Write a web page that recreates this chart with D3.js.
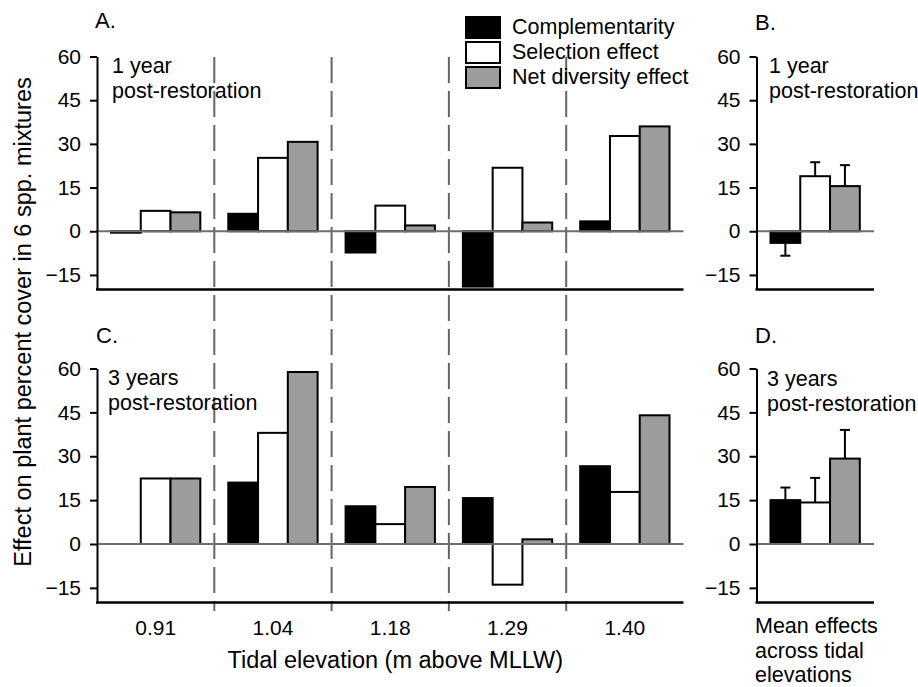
<!DOCTYPE html>
<html>
<head>
<meta charset="utf-8">
<script src="https://cdn.jsdelivr.net/npm/d3@7"></script>
<style>
  body { margin: 0; background: #fff; }
  svg { font-family: "Liberation Sans", Arial, sans-serif; }
</style>
</head>
<body>
<div id="chart"></div>
<script>
// tidal elevation groups (m above MLLW)
var elevations = ["0.91", "1.04", "1.18", "1.29", "1.40"];
var effects = ["Complementarity", "Selection effect", "Net diversity effect"];
var fills = ["#000000", "#ffffff", "#9c9c9c"];

// 1 year post-restoration
var year1Comp = [-0.5, 6, -7.3, -19, 3.4];
var year1Sel  = [7, 25.2, 8.8, 21.8, 32.7];
var year1Net  = [6.5, 30.7, 2, 3, 36];
// 3 years post-restoration
var year3Comp = [0, 21, 12.9, 15.7, 26.6];
var year3Sel  = [22.4, 38, 6.8, -13.9, 17.8];
var year3Net  = [22.4, 58.8, 19.5, 1.6, 44];

// means across tidal elevations, with error bars (SE)
var year1Mean = [-4, 18.9, 15.5];
var year1Err  = [4.4, 4.8, 7.2];
var year3Mean = [15, 14.2, 29.2];
var year3Err  = [4.3, 8.4, 9.8];

var yTicks = [-15, 0, 15, 30, 45, 60];

const W = 918, H = 687;
const svg = d3.select("#chart").append("svg")
  .attr("width", W).attr("height", H);

// x scales
const xLeft = d3.scaleBand().domain(elevations).range([97, 683.5]);
const xRight = d3.scaleBand().domain(["mean"]).range([756.5, 874]);
const xInner = d3.scaleBand().domain(effects)
  .range([0, xLeft.bandwidth()]).paddingOuter(0.47).paddingInner(0);

// y scales, one per row
const yTop = d3.scaleLinear().domain([-20, 60]).range([289.5, 56.5]);
const yBot = d3.scaleLinear().domain([-20, 60]).range([602.5, 368.5]);

function toRows(comp, sel, net) {
  return elevations.map(function(e, i) {
    return [
      {group: e, effect: effects[0], value: comp[i]},
      {group: e, effect: effects[1], value: sel[i]},
      {group: e, effect: effects[2], value: net[i]}
    ];
  }).flat();
}

function meanRows(mean, err) {
  return effects.map(function(k, i) {
    return {group: "mean", effect: k, value: mean[i], err: err[i]};
  });
}

function drawPanel(x, y, rows, withErr) {
  const g = svg.append("g");
  const x0 = x.range()[0], x1 = x.range()[1];

  // bars
  g.selectAll("rect.bar").data(rows).join("rect")
    .attr("class", "bar")
    .attr("x", d => x(d.group) + xInner(d.effect))
    .attr("width", xInner.bandwidth())
    .attr("y", d => y(Math.max(0, d.value)))
    .attr("height", d => Math.abs(y(d.value) - y(0)))
    .attr("fill", d => fills[effects.indexOf(d.effect)])
    .attr("stroke", "#000")
    .attr("stroke-width", 2);

  if (withErr) {
    const cx = d => x(d.group) + xInner(d.effect) + xInner.bandwidth() / 2;
    const tip = d => d.value + (d.value < 0 ? -d.err : d.err);
    g.selectAll("line.err").data(rows).join("line")
      .attr("class", "err")
      .attr("x1", cx).attr("x2", cx)
      .attr("y1", d => y(d.value)).attr("y2", d => y(tip(d)))
      .attr("stroke", "#000").attr("stroke-width", 2);
    g.selectAll("line.cap").data(rows).join("line")
      .attr("class", "cap")
      .attr("x1", d => cx(d) - 5).attr("x2", d => cx(d) + 5)
      .attr("y1", d => y(tip(d))).attr("y2", d => y(tip(d)))
      .attr("stroke", "#000").attr("stroke-width", 2);
  }

  // zero line
  g.append("line")
    .attr("x1", x0).attr("x2", x1)
    .attr("y1", y(0)).attr("y2", y(0))
    .attr("stroke", "#6e6e6e").attr("stroke-width", 2);

  // bottom line
  g.append("line")
    .attr("x1", x0 - 1).attr("x2", x1)
    .attr("y1", y(-20)).attr("y2", y(-20))
    .attr("stroke", "#000").attr("stroke-width", 2.5);

  // y axis
  const ax = g.append("g")
    .attr("transform", `translate(${x0},0)`)
    .call(d3.axisLeft(y).tickValues(yTicks).tickSize(7).tickSizeOuter(0).tickPadding(9));
  ax.select(".domain").attr("stroke", "#000").attr("stroke-width", 2);
  ax.selectAll(".tick line").attr("stroke", "#000").attr("stroke-width", 2);
  ax.selectAll(".tick text")
    .attr("font-size", 21).attr("fill", "#000")
    .attr("font-family", "Liberation Sans, Arial, sans-serif");
}

// dashed separators between elevations (through both rows)
svg.append("g").selectAll("line").data(elevations.slice(1)).join("line")
  .attr("x1", d => xLeft(d)).attr("x2", d => xLeft(d))
  .attr("y1", 57).attr("y2", 611)
  .attr("stroke", "#666").attr("stroke-width", 2)
  .attr("stroke-dasharray", "26,8");
svg.append("line")
  .attr("x1", xLeft.range()[1]).attr("x2", xLeft.range()[1])
  .attr("y1", 0).attr("y2", 0);

drawPanel(xLeft, yTop, toRows(year1Comp, year1Sel, year1Net), false);
drawPanel(xLeft, yBot, toRows(year3Comp, year3Sel, year3Net), false);
drawPanel(xRight, yTop, meanRows(year1Mean, year1Err), true);
drawPanel(xRight, yBot, meanRows(year3Mean, year3Err), true);

// panel letters
[["A.", 95, 28], ["B.", 755, 30], ["C.", 96, 343], ["D.", 755, 343]].forEach(function(p) {
  svg.append("text").attr("x", p[1]).attr("y", p[2])
    .attr("font-size", 22).text(p[0]);
});

// panel notes
function note(x, y, lines) {
  const t = svg.append("text").attr("x", x).attr("y", y).attr("font-size", 21.5);
  lines.forEach(function(s, i) {
    t.append("tspan").attr("x", x).attr("dy", i ? 24.7 : 0).text(s);
  });
}
note(112, 73, ["1 year", "post-restoration"]);
note(769, 73, ["1 year", "post-restoration"]);
note(108, 385, ["3 years", "post-restoration"]);
note(767, 386, ["3 years", "post-restoration"]);
note(755, 633, ["Mean effects", "across tidal", "elevations"]);

// x tick labels
svg.append("g").selectAll("text").data(elevations).join("text")
  .attr("x", d => xLeft(d) + xLeft.bandwidth() / 2)
  .attr("y", 635)
  .attr("text-anchor", "middle")
  .attr("font-size", 21)
  .text(d => d);

// axis titles
svg.append("text")
  .attr("x", xLeft(elevations[2]) + xLeft.bandwidth() / 2 + 5)
  .attr("y", 668)
  .attr("text-anchor", "middle")
  .attr("font-size", 23.5)
  .text("Tidal elevation (m above MLLW)");

svg.append("text")
  .attr("transform", "translate(31,322) rotate(-90)")
  .attr("text-anchor", "middle")
  .attr("font-size", 23.5)
  .text("Effect on plant percent cover in 6 spp. mixtures");

// legend
const legend = svg.append("g");
effects.forEach(function(k, i) {
  legend.append("rect")
    .attr("x", 466).attr("y", 17 + i * 25)
    .attr("width", 34).attr("height", 21)
    .attr("fill", fills[i]).attr("stroke", "#000").attr("stroke-width", 2);
  legend.append("text")
    .attr("x", 512).attr("y", 34 + i * 25)
    .attr("font-size", 21.5)
    .text(k);
});
</script>
</body>
</html>
